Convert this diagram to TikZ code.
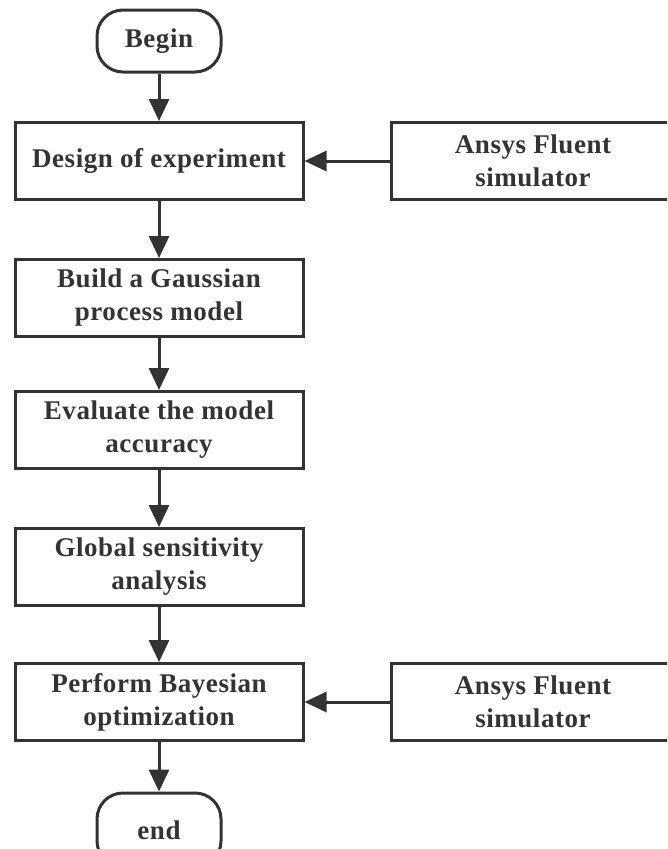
\documentclass[tikz,border=0pt]{standalone}
\usepackage{fontspec}
\setmainfont[LetterSpace=2]{Liberation Serif}
\usepackage{tikz}
\usetikzlibrary{arrows.meta}
\definecolor{lineg}{HTML}{333333}

\begin{document}
\begin{tikzpicture}[x=1pt,y=-1pt,
  procbox/.style={draw=lineg,line width=3pt,minimum width=288pt,minimum height=77pt,
    inner sep=0pt,align=center,text=lineg,font=\fontsize{27}{33}\selectfont\bfseries},
  termbox/.style={procbox,minimum width=124pt,minimum height=62pt,rounded corners=26pt},
  simbox/.style={procbox,minimum width=284pt},
  flow/.style={draw=lineg,line width=3pt,-{Triangle[length=22pt,width=20pt]}}]
\useasboundingbox (0,0) rectangle (667,849);
\clip (0,0) rectangle (667,849);
\node[termbox] (begin) at (159,41) {Begin};
\node[procbox] (doe) at (159,161) {Design of experiment};
\node[procbox] (gpm) at (159,298) {Build a Gaussian\\process model};
\node[procbox] (acc) at (159,430) {Evaluate the model\\accuracy};
\node[procbox] (gsa) at (159,567) {Global sensitivity\\analysis};
\node[procbox] (bo) at (159,702) {Perform Bayesian\\optimization};
\node[termbox,minimum height=74pt] (end) at (159,830) {end};
\node[simbox] (fluenta) at (533,161) {Ansys Fluent\\simulator};
\node[simbox] (fluentb) at (533,702) {Ansys Fluent\\simulator};
\draw[flow] (begin) -- (doe);
\draw[flow] (doe) -- (gpm);
\draw[flow] (gpm) -- (acc);
\draw[flow] (acc) -- (gsa);
\draw[flow] (gsa) -- (bo);
\draw[flow] (bo) -- (end);
\draw[flow] (fluenta) -- (doe);
\draw[flow] (fluentb) -- (bo);
\end{tikzpicture}
\end{document}
